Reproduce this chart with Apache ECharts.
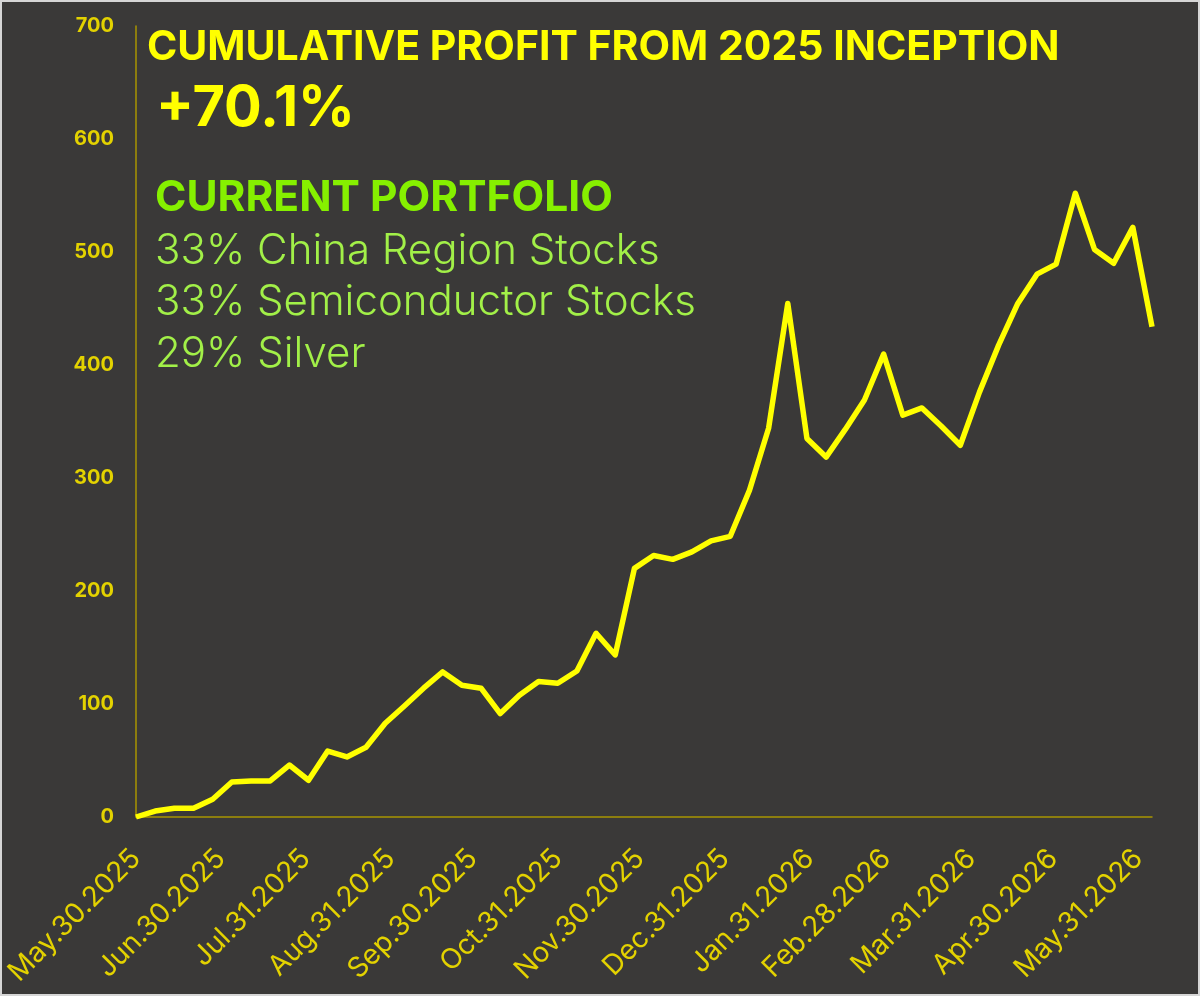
<!DOCTYPE html>
<html>
<head>
<meta charset="utf-8">
<script src="https://cdn.jsdelivr.net/npm/echarts@6/dist/echarts.min.js"></script>
<style>
  html, body { margin: 0; padding: 0; background: #ffffff; }
  #wrap { position: relative; width: 1200px; height: 996px; }
  #chart { position: absolute; left: 0; top: 0; width: 1200px; height: 996px; }
  #frame { position: absolute; left: 0; top: 0; width: 1200px; height: 996px; box-sizing: border-box; border: 2px solid #d6d6d6; pointer-events: none; }
</style>
</head>
<body>
<div id="wrap"><div id="chart"></div><div id="frame"></div></div>
<script>
// Weekly observation dates
const dates = [
  '2025-05-30','2025-06-06','2025-06-13','2025-06-20','2025-06-27',
  '2025-07-04','2025-07-11','2025-07-18','2025-07-25',
  '2025-08-01','2025-08-08','2025-08-15','2025-08-22','2025-08-29',
  '2025-09-05','2025-09-12','2025-09-19','2025-09-26',
  '2025-10-03','2025-10-10','2025-10-17','2025-10-24','2025-10-31',
  '2025-11-07','2025-11-14','2025-11-21','2025-11-28',
  '2025-12-05','2025-12-12','2025-12-19','2025-12-26',
  '2026-01-02','2026-01-09','2026-01-16','2026-01-23','2026-01-30',
  '2026-02-06','2026-02-13','2026-02-20','2026-02-27',
  '2026-03-06','2026-03-13','2026-03-20','2026-03-27',
  '2026-04-03','2026-04-10','2026-04-17','2026-04-24',
  '2026-05-01','2026-05-08','2026-05-15','2026-05-22','2026-05-29',
  '2026-06-05'
];
// Cumulative profit values
const profit = [
  0, 5.3, 7.7, 7.7, 15.7, 31, 31.9, 31.9, 46, 32.5,
  58.4, 53.1, 61.7, 83, 98.3, 114, 128.4, 116.6, 114, 91.5,
  107.7, 120, 118.4, 129.2, 162.6, 143.4, 220, 231.4, 228, 234.6,
  244.3, 248.4, 289, 344, 454.5, 335, 318.5, 343, 369, 409.6,
  355.6, 362, 346, 329, 376, 417.6, 454.5, 480.4, 489.3, 552,
  502.3, 490, 521.8, 433.8
];
// X-axis tick labels (month ends)
const tickLabels = [
  'May.30.2025','Jun.30.2025','Jul.31.2025','Aug.31.2025','Sep.30.2025',
  'Oct.31.2025','Nov.30.2025','Dec.31.2025','Jan.31.2026','Feb.28.2026',
  'Mar.31.2026','Apr.30.2026','May.31.2026'
];
const yTicks = [0, 100, 200, 300, 400, 500, 600, 700];
const titleText = 'CUMULATIVE PROFIT FROM 2025 INCEPTION';
const totalText = '+70.1%';
const portfolioTitle = 'CURRENT PORTFOLIO';
const holdings = ['33% China Region Stocks', '33% Semiconductor Stocks', '29% Silver'];

const MONTHS = {Jan:0,Feb:1,Mar:2,Apr:3,May:4,Jun:5,Jul:6,Aug:7,Sep:8,Oct:9,Nov:10,Dec:11};
function isoDay(s) { const p = s.split('-'); return Date.UTC(+p[0], +p[1]-1, +p[2]) / 864e5; }
function labelDay(l) { const p = l.split('.'); return Date.UTC(+p[2], MONTHS[p[0]], +p[1]) / 864e5; }
const t0 = isoDay(dates[0]);
const xs = dates.map(d => isoDay(d) - t0);
const tickPos = tickLabels.map(l => labelDay(l) - t0);
const labelMap = {};
tickPos.forEach((p, i) => { labelMap[p] = tickLabels[i]; });
const seriesData = xs.map((x, i) => [x, profit[i]]);

const chart = echarts.init(document.getElementById('chart'), null, {renderer: 'canvas'});
const axisColor = '#a89500';
const labelColor = '#e3d200';
const greenBold = '#86f000';
const greenLight = '#a2f048';
const FONT = 'Inter, "Noto Sans", sans-serif';

const graphics = [
  {type:'text', style:{text:titleText, x:147, y:48, font:'bold 41px ' + FONT, fill:'#ffff00', textAlign:'left', textVerticalAlign:'middle'}},
  {type:'text', style:{text:totalText, x:156, y:109, font:'bold 56px ' + FONT, fill:'#ffff00', textAlign:'left', textVerticalAlign:'middle'}},
  {type:'text', style:{text:portfolioTitle, x:155, y:198, font:'bold 42.5px ' + FONT, fill:greenBold, textAlign:'left', textVerticalAlign:'middle'}}
];
holdings.forEach((h, i) => {
  graphics.push({type:'text', style:{text:h, x:155, y:251 + i*51.5, font:'300 42px ' + FONT, fill:greenLight, textAlign:'left', textVerticalAlign:'middle'}});
});

chart.setOption({
  backgroundColor: '#3a3938',
  animation: false,
  grid: {left: 136, right: 48, top: 26, bottom: 179, containLabel: false, outerBoundsMode: 'none'},
  xAxis: {
    type: 'value',
    min: 0,
    max: xs[xs.length - 1],
    splitLine: {show: false},
    axisTick: {show: false},
    axisLine: {show: true, lineStyle: {color: axisColor, width: 1.5}},
    axisLabel: {
      customValues: tickPos,
      rotate: 45,
      margin: 37,
      color: labelColor,
      fontFamily: FONT,
      fontSize: 28,
      formatter: v => labelMap[Math.round(v)] || ''
    }
  },
  yAxis: {
    type: 'value',
    min: yTicks[0],
    max: yTicks[yTicks.length - 1],
    interval: 100,
    splitLine: {show: false},
    axisTick: {show: false},
    axisLine: {show: true, lineStyle: {color: axisColor, width: 1.5}},
    axisLabel: {color: labelColor, fontFamily: FONT, fontWeight: 'bold', fontSize: 20, margin: 22}
  },
  series: [{
    type: 'line',
    data: seriesData,
    showSymbol: false,
    symbol: 'none',
    lineStyle: {color: '#ffff00', width: 5.5, join: 'round'},
    z: 3
  }],
  graphic: graphics
});
</script>
</body>
</html>
